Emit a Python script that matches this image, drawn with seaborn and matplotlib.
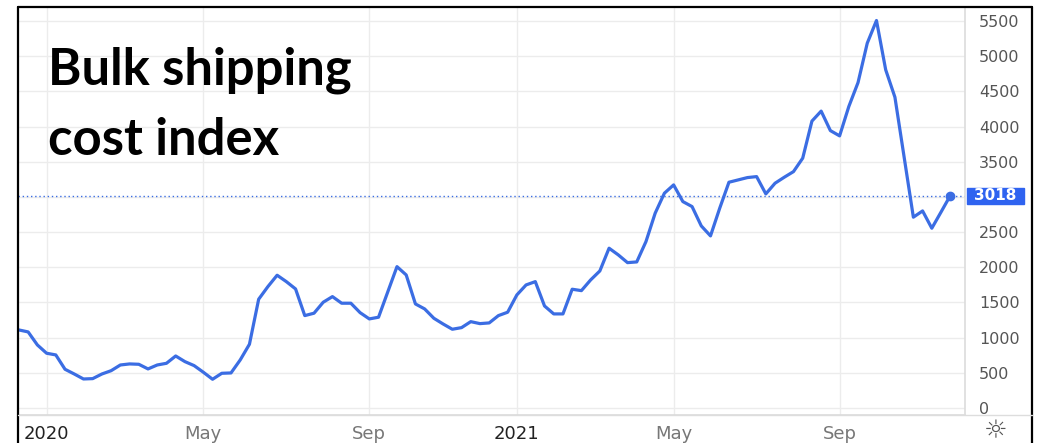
import numpy as np
import pandas as pd
import matplotlib.pyplot as plt
import seaborn as sns
from matplotlib.lines import Line2D
from matplotlib.patches import Rectangle
from matplotlib.transforms import blended_transform_factory

# weekly bulk shipping index, Dec 2019 - Nov 2021
bdi = [1109, 1081, 896, 778, 754, 550, 483, 412, 417, 483,
       530, 611, 626, 621, 555, 611, 635, 739, 659, 602,
       508, 408, 493, 498, 683, 906, 1546, 1725, 1887, 1796,
       1692, 1313, 1347, 1503, 1583, 1489, 1489, 1355, 1266, 1290,
       1650, 2009, 1891, 1479, 1408, 1275, 1194, 1119, 1142, 1227,
       1199, 1209, 1313, 1361, 1607, 1749, 1796, 1450, 1337, 1337,
       1688, 1668, 1820, 1948, 2271, 2176, 2066, 2076, 2365, 2769,
       3053, 3171, 2934, 2863, 2588, 2446, 2840, 3209, 3242, 3275,
       3289, 3043, 3195, 3280, 3360, 3551, 4078, 4220, 3943, 3868,
       4285, 4626, 5186, 5508, 4807, 4418, 3565, 2712, 2801, 2555,
       2785, 3018]
week = np.arange(len(bdi))
tick_weeks = [3, 20, 38, 54, 71, 89]
tick_labels = ["2020", "May", "Sep", "2021", "May", "Sep"]
y_ticks = list(range(0, 5501, 500))
last_value = bdi[-1]
title_lines = ["Bulk shipping", "cost index"]

df = pd.DataFrame({"week": week, "index": bdi})

sns.set_theme(style="white")
plt.rcParams["font.family"] = ["DejaVu Sans"]

W, H = 1038, 443
fig = plt.figure(figsize=(W / 100, H / 100), dpi=100)
ax = fig.add_axes([18 / W, 1 - 415 / H, (965 - 18) / W, (415 - 7) / H])

line_col = "#3b6de3"
tag_col = "#2f63f0"
sns.lineplot(data=df, x="week", y="index", ax=ax, color=line_col, lw=2.3)
ax.plot(week[-1], last_value, "o", color=line_col, ms=6)
ax.axhline(last_value, color=line_col, lw=1, ls=(0, (1, 2)))

ax.set_xlim(-0.1, 102.6)
ax.set_ylim(-100, 5700)
ax.set_xticks(tick_weeks)
ax.set_xticklabels(tick_labels)
ax.set_yticks(y_ticks)
ax.set_yticklabels(["" if v == 3000 else str(v) for v in y_ticks])
ax.yaxis.tick_right()
ax.tick_params(axis="y", length=0, pad=10, labelsize=11.5, labelcolor="#555555")
ax.tick_params(axis="x", length=0, pad=7, labelsize=13, labelcolor="#777777")
for lbl in ax.get_xticklabels():
    if lbl.get_text().isdigit():
        lbl.set_color("#222222")
ax.grid(True, color="#ececec", lw=1)
ax.set_xlabel("")
ax.set_ylabel("")
for s in ["left", "top"]:
    ax.spines[s].set_visible(False)
ax.spines["right"].set_color("#dddddd")
ax.spines["bottom"].set_color("#dddddd")

# price tag on the right axis
tr = blended_transform_factory(ax.transAxes, ax.transData)
half = 8 / (408 / 5800)
ax.add_patch(Rectangle((1.002, last_value - half), 0.06, 2 * half, transform=tr,
                       color=tag_col, clip_on=False))
ax.text(1.032, last_value, str(last_value), transform=tr, ha="center", va="center",
        color="white", fontsize=11, fontweight="bold")

# outer frame
k = dict(color="black", lw=1.6, transform=fig.transFigure)
fig.add_artist(Line2D([18 / W, 18 / W], [0, 1 - 7 / H], **k))
fig.add_artist(Line2D([18 / W, 1032 / W], [1 - 7 / H, 1 - 7 / H], **k))
fig.add_artist(Line2D([1032 / W, 1032 / W], [0, 1 - 7 / H], **k))
fig.add_artist(Line2D([18 / W, 1032 / W], [1 - 415 / H, 1 - 415 / H],
                      color="#dddddd", lw=1, transform=fig.transFigure))

fig.text(996 / W, 1 - 431 / H, "☼", ha="center", va="center", fontsize=19, color="#555555")

for line, yb in zip(title_lines, [85, 155]):
    fig.text(48 / W, 1 - yb / H, line, ha="left", va="baseline", fontsize=36.5,
             fontweight="bold", family=["Lato", "DejaVu Sans"], color="black")

fig.savefig("out.png", dpi=100)
